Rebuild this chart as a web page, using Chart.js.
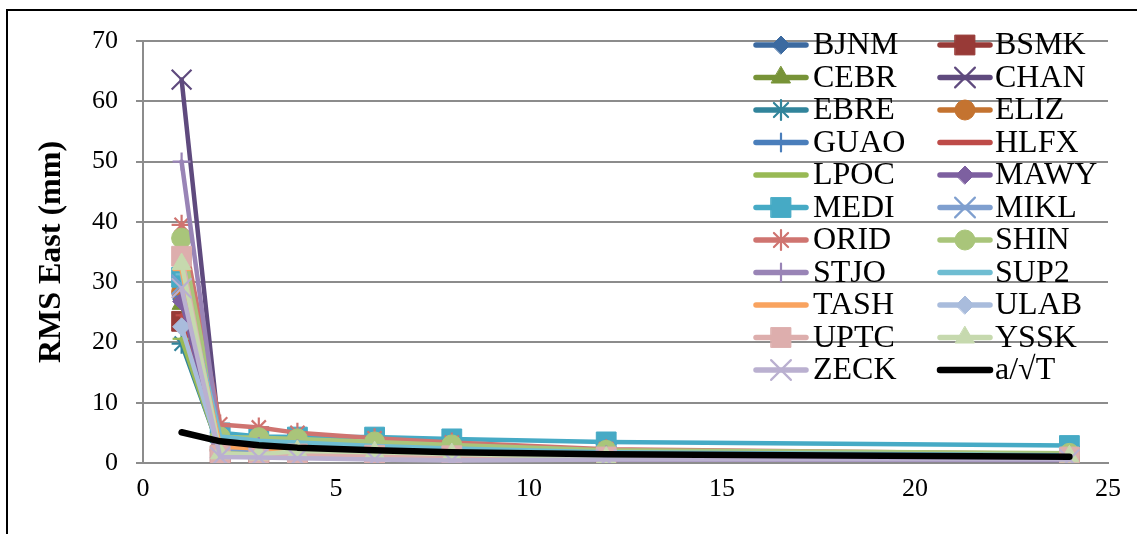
<!DOCTYPE html>
<html>
<head>
<meta charset="utf-8">
<script src="https://cdn.jsdelivr.net/npm/chart.js@4.4.1/dist/chart.umd.min.js"></script>
<style>
  html, body { margin: 0; padding: 0; background: #fff; }
  #wrap { position: relative; width: 1137px; height: 534px; overflow: hidden; }
  #frame { position: absolute; left: 6px; top: 9px; right: -10px; bottom: -10px;
           border-left: 2px solid #000; border-top: 2px solid #000; }
  canvas { position: absolute; left: 0; top: 0; }
</style>
</head>
<body>
<div id="wrap">
  <div id="frame"></div>
  <canvas id="c" width="1137" height="534"></canvas>
</div>
<script>
// Averaging window (hours) on the x axis
const hours = [1, 2, 3, 4, 6, 8, 12, 24];

// RMS of the East component (mm) per station
const BJNM = [27.2, 2.6, 2.3, 2.0, 1.7, 1.5, 1.2, 0.9];
const BSMK = [23.5, 1.2, 1.4, 1.3, 1.1, 1.0, 0.9, 0.8];
const CEBR = [26.4, 2.3, 2.0, 1.8, 1.5, 1.3, 1.1, 0.9];
const CHAN = [63.6, 3.5, 3.0, 2.6, 2.2, 1.9, 1.6, 1.2];
const EBRE = [19.8, 2.0, 1.8, 1.6, 1.4, 1.2, 1.0, 0.8];
const ELIZ = [28.4, 2.2, 2.0, 1.7, 1.5, 1.3, 1.1, 0.9];
const GUAO = [27.6, 1.9, 1.7, 1.5, 1.3, 1.2, 1.0, 0.8];
const HLFX = [24.5, 2.8, 2.5, 2.2, 1.9, 1.6, 1.3, 1.0];
const LPOC = [20.6, 1.8, 1.6, 1.5, 1.3, 1.1, 1.0, 0.9];
const MAWY = [26.8, 1.1, 1.0, 0.9, 0.8, 0.7, 0.6, 0.5];
const MEDI = [30.8, 5.0, 4.4, 4.3, 4.3, 4.0, 3.5, 2.9];
const MIKL = [29.6, 2.4, 2.1, 1.9, 1.6, 1.4, 1.2, 0.9];
const ORID = [39.5, 6.4, 5.9, 5.0, 4.1, 3.4, 2.3, 1.5];
const SHIN = [37.3, 4.3, 4.2, 4.0, 3.5, 3.0, 2.1, 1.6];
const STJO = [50.0, 3.2, 2.8, 2.4, 2.0, 1.7, 1.4, 1.1];
const SUP2 = [31.3, 4.4, 3.7, 3.4, 2.8, 2.4, 1.8, 1.3];
const TASH = [32.0, 2.7, 2.4, 2.1, 1.8, 1.6, 1.3, 1.0];
const ULAB = [22.6, 1.5, 1.3, 1.2, 1.0, 0.9, 0.8, 0.7];
const UPTC = [34.3, 1.3, 1.5, 1.5, 1.3, 1.2, 1.0, 1.0];
const YSSK = [33.0, 1.6, 1.4, 2.0, 1.8, 1.5, 0.9, 1.1];
const ZECK = [29.0, 1.0, 0.9, 0.8, 0.6, 0.4, 0.6, 0.6];
// Reference curve a/sqrt(T)
const REF  = [5.1, 3.6, 2.95, 2.55, 2.1, 1.8, 1.47, 1.05];

const seriesNames = ['BJNM','BSMK','CEBR','CHAN','EBRE','ELIZ','GUAO','HLFX','LPOC','MAWY','MEDI',
                     'MIKL','ORID','SHIN','STJO','SUP2','TASH','ULAB','UPTC','YSSK','ZECK','a/\u221AT'];
const seriesValues = [BJNM,BSMK,CEBR,CHAN,EBRE,ELIZ,GUAO,HLFX,LPOC,MAWY,MEDI,
                      MIKL,ORID,SHIN,STJO,SUP2,TASH,ULAB,UPTC,YSSK,ZECK,REF];

// Look of each series: colour, marker shape, marker radius
const looks = [
  ['#3C6AA0', 'rectRot',  9], ['#983A37', 'rect',    14], ['#779337', 'triangle', 11],
  ['#5F4A7E', 'crossRot',14], ['#31849B', 'star',    10], ['#C47330', 'circle',   10],
  ['#4A7EBB', 'cross',     9], ['#BE4B48', 'line',     6], ['#98B954', 'line',      9],
  ['#7D60A0', 'rectRot',  9], ['#46AAC5', 'rect',    14], ['#7F9FCF', 'crossRot', 14],
  ['#CF7470', 'star',     10], ['#A9C57A', 'circle',  10], ['#9984B6', 'cross',     9],
  ['#6FBDD2', 'line',      6], ['#F9A35F', 'line',     9], ['#A9BCDC', 'rectRot',   9],
  ['#DDAEAD', 'rect',     14], ['#C6D9AE', 'triangle',11], ['#BAB0D0', 'crossRot', 14],
  ['#000000', false,       0]
];

const strokeOnly = new Set(['cross', 'crossRot', 'star', 'line', 'dash']);
const serif = "'Liberation Serif', 'Times New Roman', serif";

const datasets = seriesNames.map((name, i) => {
  const [color, shape, r] = looks[i];
  const isRef = i === seriesNames.length - 1;
  return {
    label: name,
    data: hours.map((h, k) => ({ x: h, y: seriesValues[i][k] })),
    borderColor: color,
    backgroundColor: color,
    borderWidth: isRef ? 6.5 : 4.5,
    borderCapStyle: 'round',
    borderJoinStyle: 'round',
    pointStyle: shape,
    pointRadius: r,
    pointHoverRadius: r,
    pointBackgroundColor: color,
    pointBorderColor: color,
    pointBorderWidth: shape && strokeOnly.has(shape) ? 2.2 : 1,
    tension: 0,
    fill: false,
    order: seriesNames.length - i   // later series sit on top
  };
});

// Two-column legend laid out row by row inside the plot area
const gridLegend = {
  id: 'gridLegend',
  afterDraw(chart) {
    const ctx = chart.ctx;
    const cols = [{ line: 753, text: 813 }, { line: 937, text: 995 }];
    const lineLen = 56, row0 = 45, rowStep = 32.5;
    chart.data.datasets.forEach((ds, i) => {
      const col = cols[i % 2];
      const y = row0 + Math.floor(i / 2) * rowStep;
      ctx.save();
      ctx.strokeStyle = ds.borderColor;
      ctx.lineWidth = Math.max(ds.borderWidth, 5.5);
      ctx.lineCap = 'round';
      ctx.beginPath();
      ctx.moveTo(col.line + 3, y);
      ctx.lineTo(col.line + lineLen - 3, y);
      ctx.stroke();
      if (ds.pointStyle && ds.pointRadius > 0) {
        ctx.fillStyle = ds.pointBackgroundColor;
        ctx.strokeStyle = ds.pointBorderColor;
        ctx.lineWidth = ds.pointBorderWidth;
        Chart.helpers.drawPoint(ctx, {
          pointStyle: ds.pointStyle, radius: ds.pointRadius,
          rotation: 0, borderWidth: ds.pointBorderWidth
        }, col.line + lineLen / 2, y);
      }
      ctx.fillStyle = '#000';
      ctx.font = '32px ' + serif;
      ctx.textAlign = 'left';
      ctx.textBaseline = 'middle';
      ctx.fillText(ds.label, col.text, y + 1);
      ctx.restore();
    });
  }
};

new Chart(document.getElementById('c'), {
  type: 'line',
  data: { datasets },
  plugins: [gridLegend],
  options: {
    responsive: false,
    animation: false,
    devicePixelRatio: 1,
    layout: { padding: { left: 0, top: 41, right: 29, bottom: 0 } },
    plugins: { legend: { display: false }, tooltip: { enabled: false } },
    scales: {
      x: {
        type: 'linear', min: 0, max: 25,
        ticks: { stepSize: 5, color: '#000', font: { family: serif, size: 26 }, padding: 11, maxRotation: 0 },
        grid: { display: false, drawTicks: false },
        border: { display: true, color: '#8C8C8C', width: 2 },
        afterFit(s) { s.height = 71; }
      },
      y: {
        min: 0, max: 70,
        ticks: { stepSize: 10, color: '#000', font: { family: serif, size: 26 }, padding: 18 },
        grid: { color: '#8C8C8C', lineWidth: 2, tickLength: 7, drawTicks: true },
        border: { display: true, color: '#8C8C8C', width: 2 },
        title: {
          display: true, text: 'RMS East (mm)', color: '#000',
          font: { family: serif, size: 32, weight: 'bold' },
          padding: { top: 33, bottom: 0 }
        },
        afterFit(s) { s.width = 143; }
      }
    }
  }
});
</script>
</body>
</html>
